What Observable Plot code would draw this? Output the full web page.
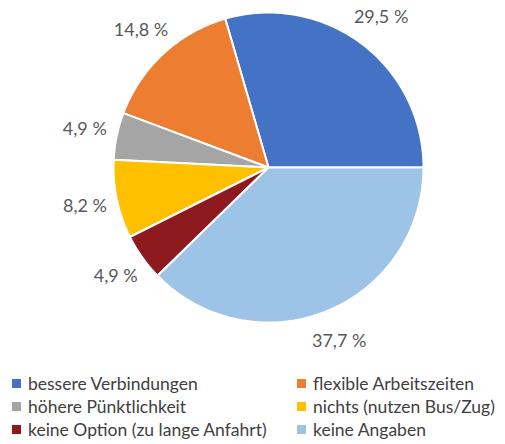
<!DOCTYPE html>
<html>
<head>
<meta charset="utf-8">
<script src="https://cdn.jsdelivr.net/npm/d3@7"></script>
<script src="https://cdn.jsdelivr.net/npm/@observablehq/plot@0.6"></script>
<style>
  body { margin: 0; background: #fff; font-family: Lato, "Open Sans", sans-serif; }
  #chart svg { display: block; }
  .legend { display: grid; grid-template-columns: 285px 208px; padding-left: 12px; margin-top: 12px; row-gap: 0; }
  .item { display: flex; align-items: center; height: 23px; font-size: 17.5px; color: #404040; white-space: nowrap; }
  .sw { width: 9px; height: 9px; margin-right: 7px; flex: none; }
</style>
</head>
<body>
<div id="chart"></div>
<script>
// Data (legend order)
const categories = ["bessere Verbindungen", "flexible Arbeitszeiten", "höhere Pünktlichkeit", "nichts (nutzen Bus/Zug)", "keine Option (zu lange Anfahrt)", "keine Angaben"];
const shares = [29.5, 14.8, 4.9, 8.2, 4.9, 37.7];
const labels = ["29,5 %", "14,8 %", "4,9 %", "8,2 %", "4,9 %", "37,7 %"];
const colors = ["#4472C4", "#ED7D31", "#A5A5A5", "#FFC000", "#8C1A1E", "#9DC3E6"];

const W = 505, H = 360, R = 155, CX = 268, CY = 167;

// Slices: first slice ends at 3 o'clock, slices run counterclockwise
const total = d3.sum(shares);
let a = 90;
const slices = shares.map((v, i) => {
  const a0 = a, a1 = a - v / total * 360;
  a = a1;
  return {i, a0, a1, mid: (a0 + a1) / 2};
});
const rad = d => d * Math.PI / 180;
const polys = slices.map(s => {
  const pts = [{x: 0, y: 0}];
  const n = Math.max(4, Math.ceil(Math.abs(s.a0 - s.a1) / 1.5));
  for (let k = 0; k <= n; k++) {
    const t = s.a0 + (s.a1 - s.a0) * k / n;
    pts.push({x: Math.sin(rad(t)), y: Math.cos(rad(t))});
  }
  pts.push({x: 0, y: 0});
  return pts;
});
const labelPts = slices.map(s => ({
  x: 1.21 * Math.sin(rad(s.mid)),
  y: 1.21 * Math.cos(rad(s.mid)),
  text: labels[s.i]
}));

const marks = polys.map((p, i) => Plot.line(p, {x: "x", y: "y", fill: colors[i], stroke: "white", strokeWidth: 2, strokeLinejoin: "round"}));
marks.push(Plot.text(labelPts, {x: "x", y: "y", text: "text", fontSize: 18, fill: "#595959", fontFamily: "Lato, sans-serif"}));

const chart = Plot.plot({
  width: W, height: H,
  margin: 0,
  x: {domain: [-CX / R, (W - CX) / R], range: [0, W], axis: null},
  y: {domain: [-(H - CY) / R, CY / R], range: [H, 0], axis: null},
  marks
});
document.getElementById("chart").appendChild(chart);

const legend = document.createElement("div");
legend.className = "legend";
categories.forEach((c, i) => {
  const it = document.createElement("div");
  it.className = "item";
  const sw = document.createElement("span");
  sw.className = "sw";
  sw.style.background = colors[i];
  it.appendChild(sw);
  it.appendChild(document.createTextNode(c));
  legend.appendChild(it);
});
document.body.appendChild(legend);
</script>
</body>
</html>
